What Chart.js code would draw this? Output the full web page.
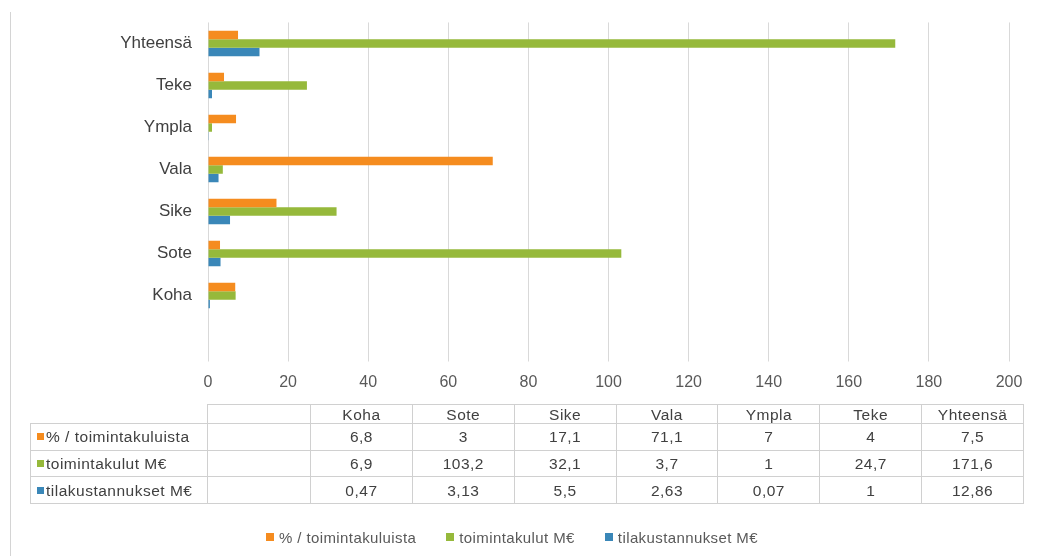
<!DOCTYPE html>
<html>
<head>
<meta charset="utf-8">
<script src="https://cdn.jsdelivr.net/npm/chart.js@4"></script>
<style>
  body { margin: 0; background: #fff; font-family: "Liberation Sans", Arial, sans-serif; }
  #wrap { position: relative; width: 1040px; height: 556px; }
  #frame { position: absolute; left: 10px; top: 12px; width: 0; height: 544px; border-left: 1px solid #d4d4d4; }
  #dataTable { position: absolute; left: 30px; top: 404px; border-collapse: collapse; table-layout: fixed; font-size: 15.5px; letter-spacing: 0.5px; color: #404040; }
  #dataTable td { border: 1px solid #d0d0d0; text-align: center; padding: 0; line-height: 17px; }
  #dataTable td.name { text-align: left; padding-left: 6px; white-space: nowrap; overflow: hidden; }
  #dataTable tr.head td { height: 18px; }
  #dataTable tr.row td { height: 25.7px; }
  #dataTable td.blank { border: none; }
  .key { display: inline-block; width: 7px; height: 7px; margin-right: 2px; vertical-align: 2px; }
  #legend { position: absolute; left: -8px; top: 529px; width: 1040px; display: flex; justify-content: center; font-size: 15px; letter-spacing: 0.4px; color: #595959; }
  #legend span.item { margin: 0 15px; white-space: nowrap; }
</style>
</head>
<body>
<div id="wrap">
  <div id="frame"></div>
  <canvas id="chart" width="1040" height="556"></canvas>
  <table id="dataTable"></table>
  <div id="legend"></div>
</div>
<script>
// categories in table order (bottom to top in the chart)
const categories = ["Koha", "Sote", "Sike", "Vala", "Ympla", "Teke", "Yhteensä"];
const seriesNames = ["% / toimintakuluista", "toimintakulut M€", "tilakustannukset M€"];
const seriesColors = ["#f58c1f", "#96b93b", "#3a87b8"];

const pctOfCosts = [6.8, 3, 17.1, 71.1, 7, 4, 7.5];
const operatingCosts = [6.9, 103.2, 32.1, 3.7, 1, 24.7, 171.6];
const facilityCosts = [0.47, 3.13, 5.5, 2.63, 0.07, 1, 12.86];

const xTicks = [0, 20, 40, 60, 80, 100, 120, 140, 160, 180, 200];

const allSeries = [pctOfCosts, operatingCosts, facilityCosts];

// chart lists top to bottom, with the empty category at the bottom
const chartLabels = [""].concat(categories).reverse();
const chartSeries = allSeries.map(s => [null].concat(s).reverse());

const fmt = v => String(v).replace(".", ",");

new Chart(document.getElementById("chart"), {
    type: "bar",
    data: {
        labels: chartLabels,
        datasets: seriesNames.map((name, i) => ({
            label: name,
            data: chartSeries[i],
            backgroundColor: seriesColors[i],
            categoryPercentage: 0.61,
            barPercentage: 1
        }))
    },
    options: {
        indexAxis: "y",
        responsive: false,
        animation: false,
        layout: { padding: { top: 0, right: 31, left: 0, bottom: 0 } },
        plugins: { legend: { display: false }, tooltip: { enabled: false } },
        scales: {
            x: {
                min: 0, max: 200,
                afterBuildTicks: scale => { scale.ticks = xTicks.map(v => ({ value: v })); },
                afterFit: scale => { scale.height = 197.5; },
                border: { display: false },
                grid: { color: "#d9d9d9", tickLength: 3 },
                ticks: { color: "#595959", font: { family: "Liberation Sans", size: 16 }, padding: 11 }
            },
            y: {
                afterFit: scale => { scale.width = 208; },
                border: { display: false },
                grid: { display: false, drawTicks: false },
                // lineHeight only trims the top padding the scale asks for
                ticks: { color: "#404040", font: { family: "Liberation Sans", size: 17, lineHeight: 0.76 }, padding: 16 }
            }
        }
    }
});

// data table under the axis
const table = document.getElementById("dataTable");
let html = '<colgroup><col style="width:177px"><col style="width:103px">';
categories.forEach(() => { html += '<col style="width:101.86px">'; });
html += '</colgroup><tr class="head"><td class="blank"></td><td></td>';
categories.forEach(c => { html += '<td>' + c + '</td>'; });
html += '</tr>';
seriesNames.forEach((name, i) => {
    html += '<tr class="row"><td class="name"><span class="key" style="background:' + seriesColors[i] + '"></span>' + name + '</td><td></td>';
    allSeries[i].forEach(v => { html += '<td>' + fmt(v) + '</td>'; });
    html += '</tr>';
});
table.innerHTML = html;

// legend at the bottom
document.getElementById("legend").innerHTML = seriesNames.map((name, i) =>
    '<span class="item"><span class="key" style="width:8px;height:8px;margin-right:5px;background:' + seriesColors[i] + '"></span>' + name + '</span>'
).join("");
</script>
</body>
</html>
